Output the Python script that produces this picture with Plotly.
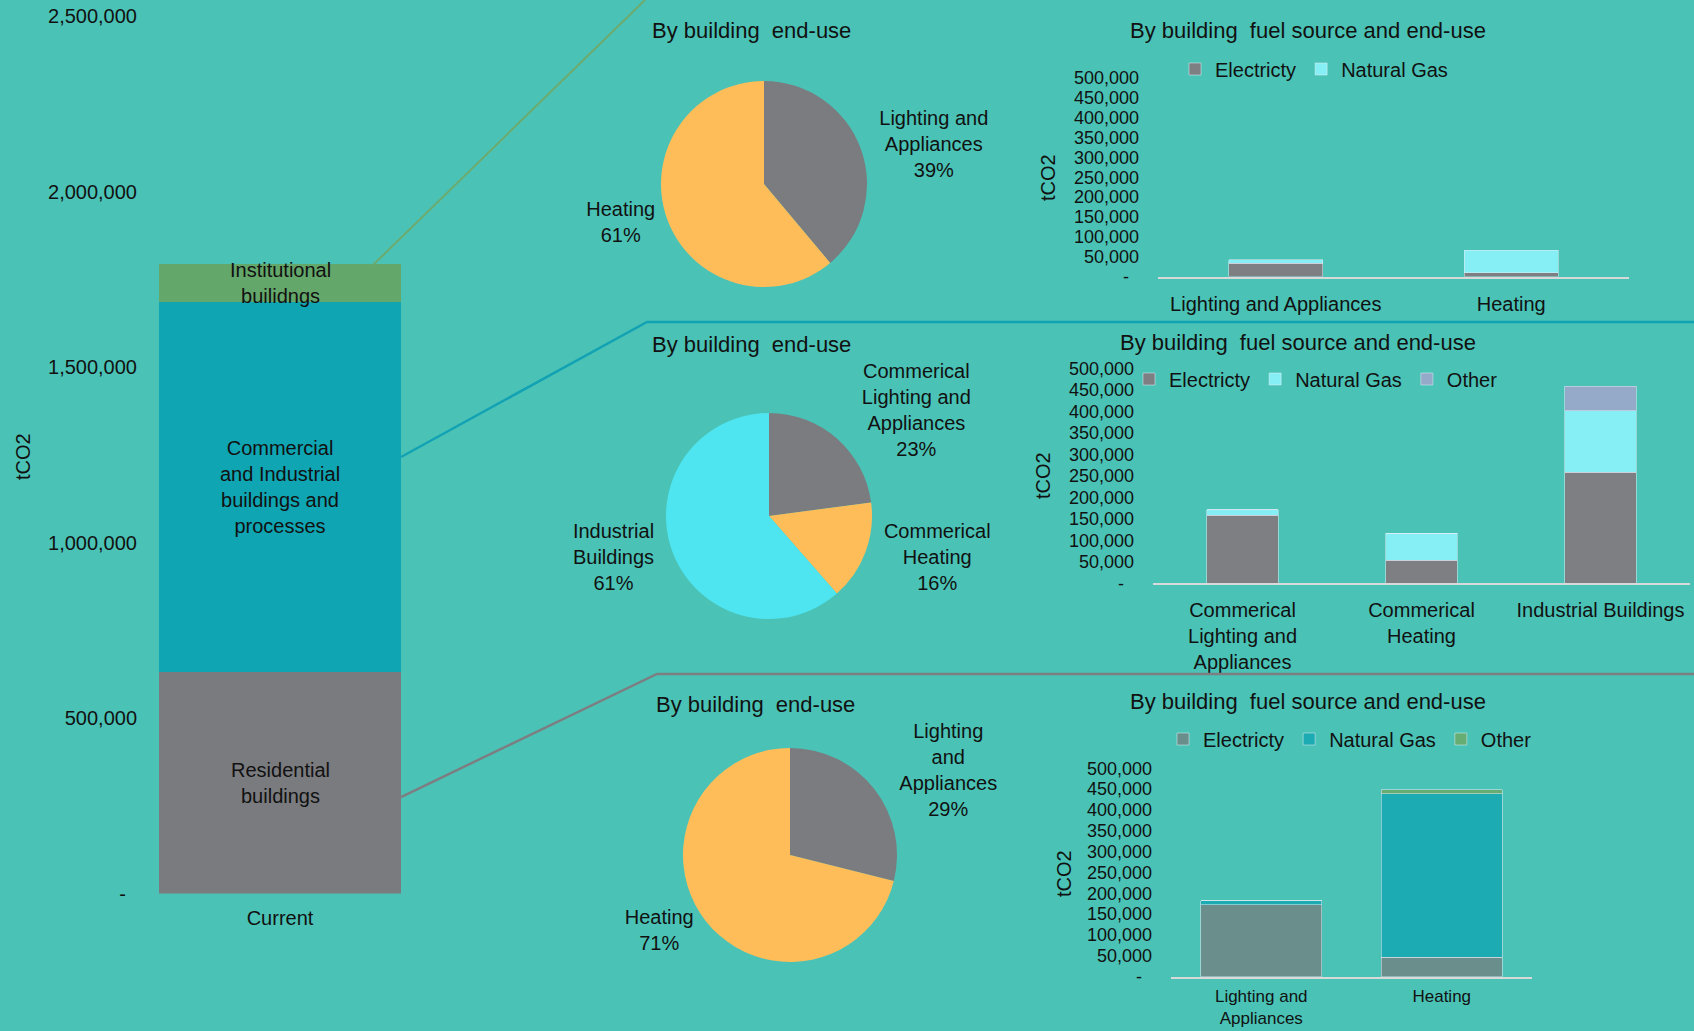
import plotly.graph_objects as go

# ---------------- data ----------------
# Main stacked bar (total building emissions)
main_categories = ["Current"]
sector_names = ["Residential<br>buildings",
                "Commercial<br>and Industrial<br>buildings and<br>processes",
                "Institutional<br>builidngs"]
sector_values = [630000, 1055000, 108000]
main_tick_vals = [0, 500000, 1000000, 1500000, 2000000, 2500000]
main_tick_text = ["-\u00a0\u00a0", "500,000", "1,000,000", "1,500,000", "2,000,000", "2,500,000"]

# Institutional buildings
inst_categories = ["Lighting and Appliances", "Heating"]
inst_pie_labels = ["Lighting and<br>Appliances", "Heating"]
inst_electricity = [33000, 10000]
inst_natural_gas = [9000, 56000]

# Commercial and industrial buildings
ci_categories = ["Commerical<br>Lighting and<br>Appliances", "Commerical<br>Heating", "Industrial Buildings"]
ci_pie_labels = ["Commerical<br>Lighting and<br>Appliances", "Commerical<br>Heating", "Industrial<br>Buildings"]
ci_electricity = [159000, 54000, 258000]
ci_natural_gas = [12000, 63000, 144000]
ci_other = [0, 0, 57000]

# Residential buildings
res_categories = ["Lighting and<br>Appliances", "Heating"]
res_pie_labels = ["Lighting<br>and<br>Appliances", "Heating"]
res_electricity = [172000, 47000]
res_natural_gas = [10000, 392000]
res_other = [0, 9000]

small_tick_vals = [0, 50000, 100000, 150000, 200000, 250000, 300000, 350000, 400000, 450000, 500000]
small_tick_text = ["-\u00a0\u00a0", "50,000", "100,000", "150,000", "200,000", "250,000",
                   "300,000", "350,000", "400,000", "450,000", "500,000"]

# ---------------- style ----------------
W, H = 1694, 1031
BG = "#4AC3B6"
TXT = "#111111"
FONT = "Liberation Sans, Arial, sans-serif"
GREY = "#7B7C80"
ORANGE = "#FFBD59"
CYAN = "#4EE4F0"


def px(x):
    return x / W


def py(y):
    return 1 - y / H


fig = go.Figure()

# ---- main stacked bar ----
sector_colors = ["#7A7B7F", "#0FA5B3", "#64A76B"]
for name, val, col in zip(sector_names, sector_values, sector_colors):
    fig.add_trace(go.Bar(x=main_categories, y=[val], name=name, marker=dict(color=col, line=dict(width=0)),
                         width=0.861, showlegend=False, xaxis="x", yaxis="y", hoverinfo="skip"))

# segment labels at segment midpoints
cum = 0
seg_annotations = []
for name, val in zip(sector_names, sector_values):
    seg_annotations.append(dict(x=main_categories[0], y=cum + val / 2, xref="x", yref="y", text=name,
                                showarrow=False, font=dict(size=20, color=TXT, family=FONT)))
    cum += val

# ---- pies ----
inst_tot = [e + g for e, g in zip(inst_electricity, inst_natural_gas)]
ci_tot = [e + g + o for e, g, o in zip(ci_electricity, ci_natural_gas, ci_other)]
res_tot = [e + g + o for e, g, o in zip(res_electricity, res_natural_gas, res_other)]

pie_common = dict(sort=False, direction="clockwise", rotation=0, textposition="outside",
                  texttemplate="%{label}<br>%{percent:.0%}", showlegend=False, hoverinfo="skip",
                  automargin=False, textfont=dict(size=20, color=TXT, family=FONT))

fig.add_trace(go.Pie(values=inst_tot, labels=inst_pie_labels,
                     marker=dict(colors=[GREY, ORANGE], line=dict(width=0)),
                     domain=dict(x=[px(661), px(867)], y=[py(287), py(81)]), **pie_common))
fig.add_trace(go.Pie(values=ci_tot, labels=ci_pie_labels,
                     marker=dict(colors=[GREY, ORANGE, CYAN], line=dict(width=0)),
                     domain=dict(x=[px(666), px(872)], y=[py(619), py(413)]), **pie_common))
fig.add_trace(go.Pie(values=res_tot, labels=res_pie_labels,
                     marker=dict(colors=[GREY, ORANGE], line=dict(width=0)),
                     domain=dict(x=[px(683), px(897)], y=[py(962), py(748)]), **pie_common))

# ---- small stacked bar charts ----
EL_GREY = "#7E7F83"
LIGHT_GAS = "#86EEF5"
fig.add_trace(go.Bar(x=inst_categories, y=inst_electricity, name="Electricty", marker_color=EL_GREY,
                     width=0.4, xaxis="x2", yaxis="y2", legend="legend", hoverinfo="skip"))
fig.add_trace(go.Bar(x=inst_categories, y=inst_natural_gas, name="Natural Gas", marker_color=LIGHT_GAS,
                     width=0.4, xaxis="x2", yaxis="y2", legend="legend", hoverinfo="skip"))

fig.add_trace(go.Bar(x=ci_categories, y=ci_electricity, name="Electricty", marker_color=EL_GREY,
                     width=0.4, xaxis="x3", yaxis="y3", legend="legend2", hoverinfo="skip"))
fig.add_trace(go.Bar(x=ci_categories, y=ci_natural_gas, name="Natural Gas", marker_color=LIGHT_GAS,
                     width=0.4, xaxis="x3", yaxis="y3", legend="legend2", hoverinfo="skip"))
fig.add_trace(go.Bar(x=ci_categories, y=ci_other, name="Other", marker_color="#94AAC8",
                     width=0.4, xaxis="x3", yaxis="y3", legend="legend2", hoverinfo="skip"))

fig.add_trace(go.Bar(x=res_categories, y=res_electricity, name="Electricty", marker_color="#6A8E8B",
                     width=0.67, xaxis="x4", yaxis="y4", legend="legend3", hoverinfo="skip"))
fig.add_trace(go.Bar(x=res_categories, y=res_natural_gas, name="Natural Gas", marker_color="#1CABB3",
                     width=0.67, xaxis="x4", yaxis="y4", legend="legend3", hoverinfo="skip"))
fig.add_trace(go.Bar(x=res_categories, y=res_other, name="Other", marker_color="#66AD74",
                     width=0.67, xaxis="x4", yaxis="y4", legend="legend3", hoverinfo="skip"))

# ---------------- layout ----------------
def small_x(domain, n, size, anchor, standoff=8):
    return dict(domain=domain, range=[-0.5, n - 0.5], showgrid=False, zeroline=False, showline=True,
                linecolor="#D9D9D9", linewidth=2, ticks="", tickfont=dict(size=size, color=TXT, family=FONT),
                ticklabelstandoff=standoff, fixedrange=True, automargin=False, anchor=anchor)


def small_y(domain, anchor):
    return dict(domain=domain, range=[0, 500000], showgrid=False, zeroline=False, showline=False,
                tickvals=small_tick_vals, ticktext=small_tick_text, ticks="",
                tickfont=dict(size=18, color=TXT, family=FONT), ticklabelstandoff=18, anchor=anchor,
                fixedrange=True, automargin=False)


legend_common = dict(orientation="h", bgcolor="rgba(0,0,0,0)", font=dict(size=20, color=TXT, family=FONT),
                     xanchor="center", yanchor="middle", traceorder="normal", itemclick=False,
                     itemdoubleclick=False)

annotations = list(seg_annotations)
for text, x, y in [("By building  end-use", 751, 31), ("By building  end-use", 751, 344),
                   ("By building  end-use", 755, 704),
                   ("By building  fuel source and end-use", 1308, 31),
                   ("By building  fuel source and end-use", 1298, 343),
                   ("By building  fuel source and end-use", 1308, 701)]:
    annotations.append(dict(x=px(x), y=py(y), xref="paper", yref="paper", text=text, showarrow=False,
                            xanchor="center", yanchor="middle", font=dict(size=22, color=TXT, family=FONT)))
for x, y in [(23, 457), (1048, 178), (1043, 476), (1064, 874)]:
    annotations.append(dict(x=px(x), y=py(y), xref="paper", yref="paper", text="tCO2", showarrow=False,
                            textangle=-90, xanchor="center", yanchor="middle",
                            font=dict(size=20, color=TXT, family=FONT)))


def path(points):
    return "M " + " L ".join(f"{px(x):.5f},{py(y):.5f}" for x, y in points)


shapes = [
    dict(type="path", xref="paper", yref="paper", path=path([(373, 265), (645, 0)]),
         line=dict(color="#6DAA6E", width=2)),
    dict(type="path", xref="paper", yref="paper", path=path([(401, 457), (647, 322), (1694, 322)]),
         line=dict(color="#13A2B3", width=2.5)),
    dict(type="path", xref="paper", yref="paper", path=path([(401, 797), (657, 674), (1694, 674)]),
         line=dict(color="#7D7E82", width=2.5)),
]

fig.update_layout(
    width=W, height=H, autosize=False,
    margin=dict(l=0, r=0, t=0, b=0, pad=0, autoexpand=False),
    paper_bgcolor=BG, plot_bgcolor=BG,
    font=dict(family=FONT, color=TXT),
    barmode="stack", bargap=0,
    xaxis=dict(domain=[px(140), px(420)], range=[-0.5, 0.5], showgrid=False, zeroline=False, showline=False,
               ticks="", tickfont=dict(size=20, color=TXT, family=FONT), ticklabelstandoff=10,
               fixedrange=True, automargin=False),
    yaxis=dict(domain=[py(893.5), py(16.2)], range=[0, 2500000], showgrid=False, zeroline=False,
               showline=False, tickvals=main_tick_vals, ticktext=main_tick_text, ticks="",
               tickfont=dict(size=20, color=TXT, family=FONT), ticklabelstandoff=2, fixedrange=True,
               automargin=False),
    xaxis2=small_x([px(1158), px(1629)], 2, 20, "y2"),
    yaxis2=small_y([py(276.6), py(77.8)], "x2"),
    xaxis3=small_x([px(1153), px(1690)], 3, 20, "y3"),
    yaxis3=small_y([py(583.4), py(368.4)], "x3"),
    xaxis4=small_x([px(1171), px(1532)], 2, 17, "y4", standoff=3),
    yaxis4=small_y([py(976.7), py(768.2)], "x4"),
    legend=legend_common | dict(x=px(1314), y=py(69)),
    legend2=legend_common | dict(x=px(1316), y=py(379)),
    legend3=legend_common | dict(x=px(1350), y=py(739)),
    annotations=annotations,
    shapes=shapes,
    showlegend=True,
)

fig.write_html("out.html", config=dict(displayModeBar=False, staticPlot=True),
               post_script="document.body.style.margin='0';document.body.style.overflow='hidden';")
